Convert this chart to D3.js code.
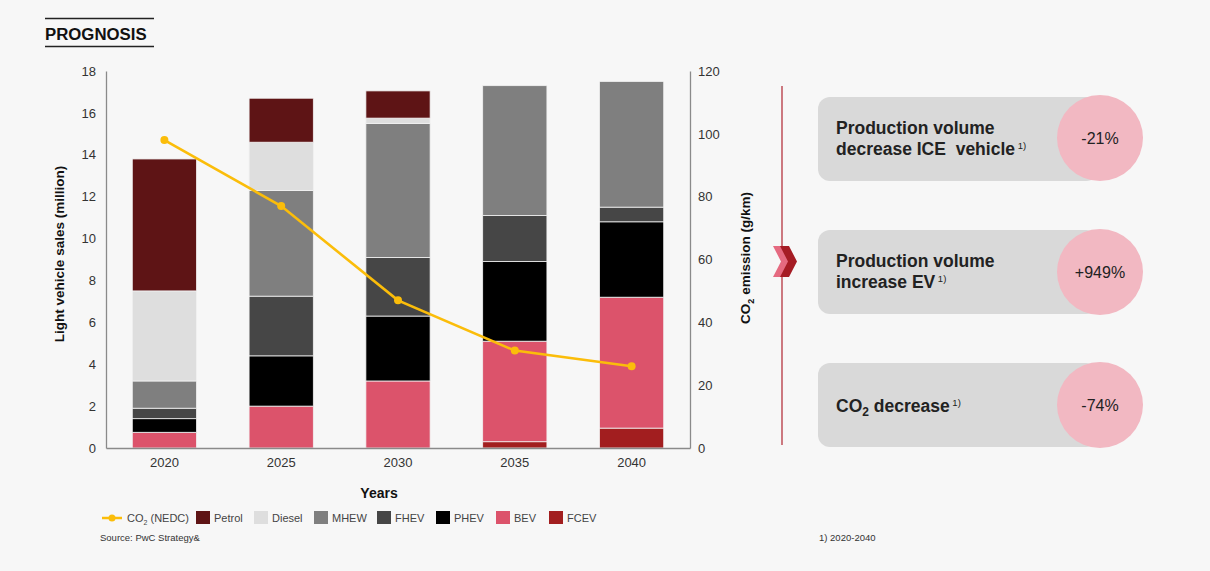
<!DOCTYPE html>
<html>
<head>
<meta charset="utf-8">
<script src="https://cdn.jsdelivr.net/npm/d3@7"></script>
<style>
  body { margin: 0; background: #f7f7f7; font-family: "Liberation Sans", Arial, sans-serif; }
  svg { display: block; }
</style>
</head>
<body>
<script>
// data
const years = ["2020", "2025", "2030", "2035", "2040"];
const seriesKeys = ["FCEV", "BEV", "PHEV", "FHEV", "MHEV", "Diesel", "Petrol"];
const fcev   = [0,    0,    0,    0.3,  0.95];
const bev    = [0.75, 2.0,  3.2,  4.8,  6.25];
const phev   = [0.65, 2.4,  3.1,  3.8,  3.6];
const fhev   = [0.5,  2.85, 2.8,  2.2,  0.7];
const mhev   = [1.3,  5.05, 6.4,  6.2,  6.0];
const diesel = [4.3,  2.3,  0.25, 0,    0];
const petrol = [6.3,  2.1,  1.3,  0,    0];
const co2    = [98, 77, 47, 31, 26];
const leftTicks = [0, 2, 4, 6, 8, 10, 12, 14, 16, 18];
const rightTicks = [0, 20, 40, 60, 80, 100, 120];
const legendKeys = ["Petrol", "Diesel", "MHEW", "FHEV", "PHEV", "BEV", "FCEV"];
const kpiLabels = [["Production volume", "decrease ICE  vehicle"], ["Production volume", "increase EV"], ["CO₂ decrease"]];
const kpiValues = ["-21%", "+949%", "-74%"];

const colors = {
  Petrol: "#5e1415", Diesel: "#dedede", MHEV: "#7f7f7f", MHEW: "#7f7f7f", FHEV: "#464646",
  PHEV: "#000000", BEV: "#dc536b", FCEV: "#a21e1f"
};

const W = 1210, H = 571;
const svg = d3.select("body").append("svg").attr("width", W).attr("height", H);
svg.append("rect").attr("width", W).attr("height", H).attr("fill", "#f7f7f7");

// header
svg.append("line").attr("x1", 45).attr("x2", 154).attr("y1", 18.5).attr("y2", 18.5).attr("stroke", "#222").attr("stroke-width", 1.3);
svg.append("line").attr("x1", 45).attr("x2", 154).attr("y1", 46.5).attr("y2", 46.5).attr("stroke", "#222").attr("stroke-width", 1.3);
svg.append("text").attr("x", 45).attr("y", 39.5).attr("font-size", 16.8).attr("font-weight", "bold").attr("fill", "#111").text("PROGNOSIS");

const plotL = 106, plotR = 690, plotT = 71, plotB = 448;
const x = d3.scaleBand().domain(years).range([plotL, plotR]).paddingInner(0.45).paddingOuter(0.225);
const y = d3.scaleLinear().domain([0, 18]).range([plotB, plotT]);
const y2 = d3.scaleLinear().domain([0, 120]).range([plotB, plotT]);

const rows = years.map((yr, i) => ({
  year: yr, FCEV: fcev[i], BEV: bev[i], PHEV: phev[i], FHEV: fhev[i], MHEV: mhev[i], Diesel: diesel[i], Petrol: petrol[i]
}));
const stack = d3.stack().keys(seriesKeys)(rows);

svg.append("g").selectAll("g").data(stack).join("g")
  .attr("fill", d => colors[d.key])
  .selectAll("rect").data(d => d.filter(s => s[1] > s[0])).join("rect")
  .attr("x", d => x(d.data.year))
  .attr("width", x.bandwidth())
  .attr("y", d => y(d[1]))
  .attr("height", d => Math.max(0, y(d[0]) - y(d[1])))
  .attr("stroke", "#f2f2f2").attr("stroke-width", 0.8);

// axes
const axisCol = "#8a8a8a";
const gl = svg.append("g").attr("transform", `translate(${plotL},0)`)
  .call(d3.axisLeft(y).tickValues(leftTicks).tickSize(0).tickPadding(10));
const gr = svg.append("g").attr("transform", `translate(${plotR},0)`)
  .call(d3.axisRight(y2).tickValues(rightTicks).tickSize(0).tickPadding(8));
const gb = svg.append("g").attr("transform", `translate(0,${plotB})`)
  .call(d3.axisBottom(x).tickSize(0).tickPadding(10));
[gl, gr, gb].forEach(g => {
  g.select(".domain").attr("stroke", axisCol).attr("stroke-width", 1.3);
  g.selectAll("text").attr("font-size", 13).attr("fill", "#333").attr("font-family", "Liberation Sans, Arial, sans-serif");
});

// CO2 line
const line = d3.line().x((d, i) => x(years[i]) + x.bandwidth() / 2).y(d => y2(d));
svg.append("path").datum(co2).attr("d", line).attr("fill", "none").attr("stroke", "#fbbd0a").attr("stroke-width", 2.6);
svg.append("g").selectAll("circle").data(co2).join("circle")
  .attr("cx", (d, i) => x(years[i]) + x.bandwidth() / 2).attr("cy", d => y2(d)).attr("r", 4).attr("fill", "#fbbd0a");

// axis titles
svg.append("text").attr("transform", "translate(64,254) rotate(-90)").attr("text-anchor", "middle")
  .attr("font-size", 13.5).attr("font-weight", "bold").attr("fill", "#111").text("Light vehicle sales (million)");
const rt = svg.append("text").attr("transform", "translate(750,258) rotate(-90)").attr("text-anchor", "middle")
  .attr("font-size", 13.5).attr("font-weight", "bold").attr("fill", "#111");
rt.append("tspan").text("CO");
rt.append("tspan").attr("font-size", 9).attr("dy", 4).text("2");
rt.append("tspan").attr("dy", -4).text(" emission (g/km)");
svg.append("text").attr("x", 379).attr("y", 498).attr("text-anchor", "middle")
  .attr("font-size", 14).attr("font-weight", "bold").attr("fill", "#111").text("Years");

// legend
const ly = 518;
svg.append("line").attr("x1", 102).attr("x2", 122).attr("y1", ly).attr("y2", ly).attr("stroke", "#fbbd0a").attr("stroke-width", 2.5);
svg.append("circle").attr("cx", 112).attr("cy", ly).attr("r", 3.5).attr("fill", "#fbbd0a");
const lt = svg.append("text").attr("x", 127).attr("y", ly + 4).attr("font-size", 11).attr("fill", "#444");
lt.append("tspan").text("CO");
lt.append("tspan").attr("font-size", 7).attr("dy", 3).text("2");
lt.append("tspan").attr("dy", -3).text(" (NEDC)");
const legX = [196, 254, 314, 377, 436, 496, 549];
legendKeys.forEach((k, i) => {
  svg.append("rect").attr("x", legX[i]).attr("y", ly - 7).attr("width", 14).attr("height", 13).attr("fill", colors[k]);
  svg.append("text").attr("x", legX[i] + 18).attr("y", ly + 4).attr("font-size", 11).attr("fill", "#444").text(k);
});
svg.append("text").attr("x", 100).attr("y", 541).attr("font-size", 9.5).attr("fill", "#333").text("Source: PwC Strategy&");
svg.append("text").attr("x", 819).attr("y", 541).attr("font-size", 9.5).attr("fill", "#333").text("1) 2020-2040");

// right panel
svg.append("line").attr("x1", 782).attr("x2", 782).attr("y1", 86).attr("y2", 445).attr("stroke", "#c76a72").attr("stroke-width", 1.8);
const chev = (cx, col) => svg.append("path")
  .attr("d", `M${cx},246 L${cx + 9},246 L${cx + 17},261.5 L${cx + 9},277 L${cx},277 L${cx + 8},261.5 Z`)
  .attr("fill", col);
chev(773, "#e56a80");
chev(780, "#a51c24");

const boxY = [97, 230, 363];
const circY = [138, 272, 405];
kpiLabels.forEach((lines, i) => {
  svg.append("rect").attr("x", 818).attr("y", boxY[i]).attr("width", 280).attr("height", 84)
    .attr("rx", 12).attr("fill", "#d9d9d9");
  svg.append("circle").attr("cx", 1100).attr("cy", circY[i]).attr("r", 43).attr("fill", "#f2b8c2");
  svg.append("text").attr("x", 1100).attr("y", circY[i] + 5.5).attr("text-anchor", "middle")
    .attr("font-size", 16).attr("fill", "#222").text(kpiValues[i]);
  const t = svg.append("text").attr("font-size", 17.5).attr("font-weight", "bold").attr("fill", "#222")
    .attr("xml:space", "preserve").style("white-space", "pre");
  if (lines.length === 2) {
    t.append("tspan").attr("x", 836).attr("y", boxY[i] + 37).text(lines[0]);
    t.append("tspan").attr("x", 836).attr("y", boxY[i] + 58).text(lines[1]);
  } else {
    t.append("tspan").attr("x", 836).attr("y", boxY[i] + 49).text("CO");
    t.append("tspan").attr("font-size", 12).attr("dy", 4).text("2");
    t.append("tspan").attr("dy", -4).text(" decrease");
  }
  t.append("tspan").attr("font-size", 9.5).attr("font-weight", "normal").attr("dy", -6).text(" 1)");
});
</script>
</body>
</html>
